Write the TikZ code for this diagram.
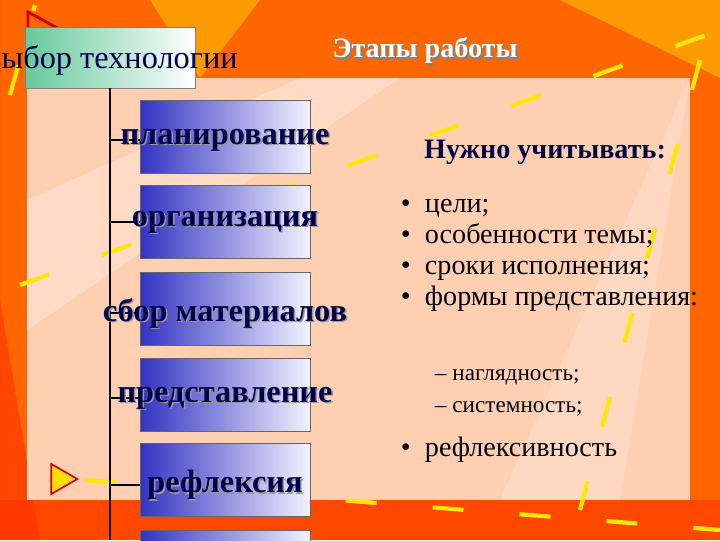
\documentclass[tikz,border=0pt]{standalone}
\usepackage{fontspec}
\usetikzlibrary{shapes.geometric}
\setmainfont{Liberation Serif}
\begin{document}
\begin{tikzpicture}[x=0.025cm,y=-0.025cm,
  stage/.style={draw=black!60,line width=0.6pt,left color=blue!70!black!80,right color=blue!5,minimum width=170*0.025cm},
  stext/.style={font=\bfseries\fontsize{23}{26}\selectfont,text=blue!30!black},
  btext/.style={font=\fontsize{20}{24}\selectfont,anchor=west},
  stext2/.style={font=\fontsize{16.5}{19}\selectfont,anchor=west},
  ydash/.style={yellow!90!orange,line width=3pt,dash pattern=on 22pt off 40pt},
  tick/.style={black,line width=2pt}]
\useasboundingbox (0,0) rectangle (720,540);
\fill[orange!80!red] (0,0) rectangle (720,540);
\fill[red!70!orange,opacity=0.5] (0,0)--(0,300)--(40,540)--(0,540)--cycle;
\fill[yellow!70!orange,opacity=0.5] (150,0)--(260,0)--(200,78)--cycle;
\fill[yellow!70!orange,opacity=0.5] (560,0)--(720,0)--(720,78)--cycle;
\fill[red!60!orange,opacity=0.6] (0,500) rectangle (720,540);
\fill[red!25!orange!30!white] (27,78) rectangle (690,500);
\fill[white,opacity=0.25] (27,200)--(300,78)--(400,78)--(27,330)--cycle;
\fill[white,opacity=0.2] (690,78)--(500,500)--(620,500)--cycle;
\draw[ydash] (10,95)--(35,5);
\draw[ydash] (20,285)--(720,30);
\draw[ydash] (700,60)--(580,510);
\draw[ydash] (85,480)--(720,530);
\draw[red!80!black,line width=2pt] (28,12)--(28,60)--(70,35)--cycle;
\node[draw=red!80!black,fill=yellow!80!orange,line width=1.2pt,isosceles triangle,isosceles triangle apex angle=60,minimum height=26*0.025cm,inner sep=0pt] (tri) at (60,479) {};
% top box
\node[draw=black!50,left color=teal!70!green!60,right color=white,minimum width=170*0.025cm,minimum height=61*0.025cm] (top) at (110,57.5) {};
\node[font=\fontsize{23}{26}\selectfont,text=blue!30!black] (toptx) at (112,60) {выбор технологии};
\node[font=\bfseries\fontsize{20}{24}\selectfont,text=black!50] at (427,52) {Этапы работы};
\node[font=\bfseries\fontsize{20}{24}\selectfont,text=white] (etapy) at (425,50) {Этапы работы};
\coordinate (vtop) at (110,88);
\coordinate (vbot) at (110,540);
\draw[tick] (vtop)--(vbot);
\foreach \n/\y/\ty/\t in {a/100/140/планирование,b/185/222/организация,c/272/313/сбор материалов,d/358/398/представление,e/443/485/рефлексия}{
  \node[stage,minimum height=73*0.025cm,anchor=north] (\n) at (225,\y) {};
  \coordinate (t\n) at (110,\ty);
  \coordinate (h\n) at (140,\ty);
  \draw[tick] (t\n)--(h\n);
  \node[stext,text=black!40] at (226.5,\ty+1.5) {\t};
  \node[stext] (l\n) at (225,\ty) {\t};
}
\node[stage,minimum height=40*0.025cm,anchor=north] (f) at (225,530) {};
\node[font=\bfseries\fontsize{20}{24}\selectfont,text=blue!25!black] (nu) at (545,152) {Нужно учитывать:};
\foreach \y/\t in {205/цели;,236/особенности темы;,267/сроки исполнения;,298/формы представления:,449/рефлексивность}{
  \node[btext,anchor=base west] at (396,\y+7) {•};
  \node[btext,anchor=base west] at (420,\y+7) {\t};
}
\node[stext2] at (430,377) {– наглядность;};
\node[stext2] at (430,409) {– системность;};
\end{tikzpicture}
\end{document}
